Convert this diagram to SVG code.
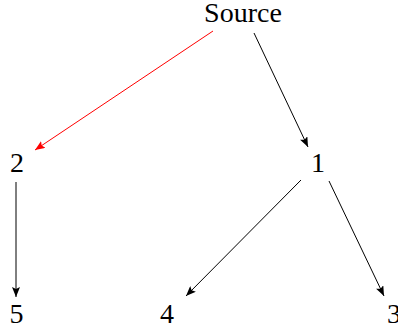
<svg xmlns="http://www.w3.org/2000/svg" width="398" height="332" viewBox="0 0 398 332">
<defs>
<style>
.lbl{font-family:"Liberation Serif","DejaVu Serif",serif;font-size:28px;fill:#000;text-anchor:middle}
.e{stroke:#000;stroke-width:1;fill:none}
.r{stroke:#f00;stroke-width:1;fill:none}
</style>
<marker id="ab" viewBox="0 0 10 8" refX="10" refY="4" markerWidth="10" markerHeight="8" markerUnits="userSpaceOnUse" orient="auto"><path d="M0,0 L10,4 L0,8 L2,4 Z" fill="#000"/></marker>
<marker id="ar" viewBox="0 0 10 8" refX="10" refY="4" markerWidth="10" markerHeight="8" markerUnits="userSpaceOnUse" orient="auto"><path d="M0,0 L10,4 L0,8 L2,4 Z" fill="#f00"/></marker>
</defs>
<g id="edges">
<line class="r" x1="213" y1="31" x2="35" y2="150" marker-end="url(#ar)"/>
<line class="e" x1="254" y1="33" x2="308" y2="147" marker-end="url(#ab)"/>
<line class="e" x1="16" y1="182" x2="16" y2="297" marker-end="url(#ab)"/>
<line class="e" x1="301" y1="180" x2="186" y2="296" marker-end="url(#ab)"/>
<line class="e" x1="329" y1="181" x2="384" y2="296" marker-end="url(#ab)"/>
</g>
<g id="source"><text class="lbl" x="243" y="22">Source</text></g>
<g id="n2"><text class="lbl" x="17" y="172">2</text></g>
<g id="n1"><text class="lbl" x="318" y="172">1</text></g>
<g id="n5"><text class="lbl" x="16.5" y="323">5</text></g>
<g id="n4"><text class="lbl" x="167" y="323">4</text></g>
<g id="n3"><text class="lbl" x="394" y="323">3</text></g>
</svg>
